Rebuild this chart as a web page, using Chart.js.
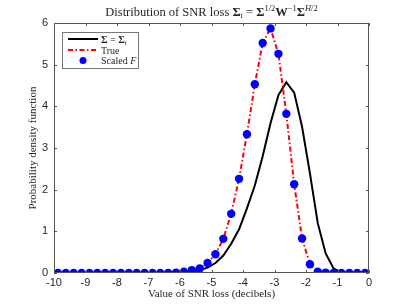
<!DOCTYPE html>
<html>
<head>
<meta charset="utf-8">
<script src="https://cdn.jsdelivr.net/npm/chart.js@4.4.1/dist/chart.umd.min.js"></script>
<style>
  html, body { margin: 0; padding: 0; background: #fff; }
  canvas { display: block; }
</style>
</head>
<body>
<canvas id="c" width="409" height="307"></canvas>
<script>
// bin centres (decibels)
const binCentres = [
  -9.875, -9.625, -9.375, -9.125, -8.875, -8.625, -8.375, -8.125,
  -7.875, -7.625, -7.375, -7.125, -6.875, -6.625, -6.375, -6.125,
  -5.875, -5.625, -5.375, -5.125, -4.875, -4.625, -4.375, -4.125,
  -3.875, -3.625, -3.375, -3.125, -2.875, -2.625, -2.375, -2.125,
  -1.875, -1.625, -1.375, -1.125, -0.875, -0.625, -0.375, -0.125
]
// Sigma = Sigma_t (black)
const sigmaT = [
  0, 0, 0, 0, 0, 0, 0, 0,
  0, 0, 0, 0, 0, 0, 0, 0,
  0.01, 0.03, 0.07, 0.13, 0.24, 0.42, 0.7, 1.05,
  1.55, 2.1, 2.8, 3.6, 4.27, 4.58, 4.33, 3.51,
  2.39, 1.19, 0.47, 0.11, 0.01, 0, 0, 0
]
// True (red)
const trueVals = [
  0, 0, 0, 0, 0, 0, 0, 0,
  0, 0, 0, 0, 0, 0, 0, 0.01,
  0.03, 0.07, 0.11, 0.24, 0.45, 0.82, 1.42, 2.26,
  3.33, 4.53, 5.52, 5.87, 5.26, 3.82, 2.13, 0.83,
  0.21, 0.03, 0.01, 0, 0, 0, 0, 0
]
// Scaled F (blue markers)
const scaledF = [
  0, 0, 0, 0, 0, 0, 0, 0,
  0, 0, 0, 0, 0, 0, 0, 0.01,
  0.03, 0.07, 0.11, 0.24, 0.45, 0.82, 1.42, 2.26,
  3.33, 4.53, 5.52, 5.87, 5.26, 3.82, 2.13, 0.83,
  0.21, 0.03, 0.01, 0, 0, 0, 0, 0
]
const xTicks = [-10, -9, -8, -7, -6, -5, -4, -3, -2, -1, 0]
const yTicks = [0, 1, 2, 3, 4, 5, 6]

const pts = (vals) => binCentres.map((x, i) => ({ x: x, y: vals[i] }))

const SERIF = '"Liberation Serif", "DejaVu Serif", serif'
const SANS = '"Liberation Sans", Arial, sans-serif'
const AXIS = '#555'

// draws a list of text pieces with different fonts / baseline shifts
function drawRich(ctx, pieces, x, y, align) {
  let total = 0
  for (let p of pieces) { ctx.font = p.f; total += ctx.measureText(p.t).width }
  let cx = align === 'center' ? x - total / 2 : x
  ctx.textBaseline = 'alphabetic'
  ctx.textAlign = 'left'
  for (let p of pieces) {
    ctx.font = p.f
    ctx.fillText(p.t, cx, y + (p.dy || 0))
    cx += ctx.measureText(p.t).width
  }
}

const decor = {
  id: 'decor',
  afterDraw(chart) {
    const ctx = chart.ctx
    const a = chart.chartArea
    const xs = chart.scales.x, ys = chart.scales.y
    ctx.save()
    // box
    ctx.strokeStyle = AXIS
    ctx.lineWidth = 1
    ctx.strokeRect(a.left + 0.5, a.top + 0.5, a.right - a.left - 1, a.bottom - a.top - 1)
    // inward ticks
    ctx.beginPath()
    for (let v of xTicks) {
      const px = Math.round(xs.getPixelForValue(v)) + 0.5
      ctx.moveTo(px, a.bottom); ctx.lineTo(px, a.bottom - 3)
      ctx.moveTo(px, a.top); ctx.lineTo(px, a.top + 3)
    }
    for (let v of yTicks) {
      const py = Math.round(ys.getPixelForValue(v)) + 0.5
      ctx.moveTo(a.left, py); ctx.lineTo(a.left + 3, py)
      ctx.moveTo(a.right, py); ctx.lineTo(a.right - 3, py)
    }
    ctx.stroke()

    ctx.fillStyle = '#262626'
    // title
    const R = '12.5px ' + SERIF, B = 'bold 12.5px ' + SERIF, S = '8.5px ' + SERIF, SI = 'italic 8.5px ' + SERIF
    drawRich(ctx, [
      { t: 'Distribution of SNR loss ', f: R },
      { t: 'Σ', f: B }, { t: 't', f: SI, dy: 2 },
      { t: ' = ', f: R },
      { t: 'Σ', f: B }, { t: '1/2', f: S, dy: -5 },
      { t: 'W', f: B }, { t: '−1', f: S, dy: -5 },
      { t: 'Σ', f: B }, { t: 'H', f: SI, dy: -5 }, { t: '/2', f: S, dy: -5 }
    ], (a.left + a.right) / 2, 16, 'center')

    // axis titles
    ctx.font = '11px ' + SERIF
    ctx.textAlign = 'center'
    ctx.textBaseline = 'middle'
    ctx.fillText('Value of SNR loss (decibels)', (a.left + a.right) / 2, 294)
    ctx.save()
    ctx.translate(33, (a.top + a.bottom) / 2)
    ctx.rotate(-Math.PI / 2)
    ctx.fillText('Probability density function', 0, 0)
    ctx.restore()

    // legend
    const lx = 62.5, ly = 32.5, lw = 76, lh = 36
    ctx.fillStyle = '#fff'
    ctx.fillRect(lx, ly, lw, lh)
    ctx.strokeStyle = '#777'
    ctx.lineWidth = 1
    ctx.strokeRect(lx, ly, lw, lh)
    const rows = [39, 50, 60.5]
    ctx.lineWidth = 2
    ctx.strokeStyle = '#000'
    ctx.beginPath(); ctx.moveTo(68, rows[0]); ctx.lineTo(98, rows[0]); ctx.stroke()
    ctx.strokeStyle = '#ff0000'
    ctx.setLineDash([5, 2.5, 1.5, 2.5])
    ctx.beginPath(); ctx.moveTo(68, rows[1]); ctx.lineTo(98, rows[1]); ctx.stroke()
    ctx.setLineDash([])
    ctx.fillStyle = '#0000ff'
    ctx.beginPath(); ctx.arc(83, rows[2], 3.5, 0, Math.PI * 2); ctx.fill()
    ctx.fillStyle = '#262626'
    const LR = '10px ' + SERIF, LB = 'bold 10px ' + SERIF, LI = 'italic 10px ' + SERIF, LS = 'italic 7px ' + SERIF
    drawRich(ctx, [{ t: 'Σ', f: LB }, { t: ' = ', f: LR }, { t: 'Σ', f: LB }, { t: 't', f: LS, dy: 2 }], 101, rows[0] + 3.5, 'left')
    drawRich(ctx, [{ t: 'True', f: LR }], 101, rows[1] + 3.5, 'left')
    drawRich(ctx, [{ t: 'Scaled ', f: LR }, { t: 'F', f: LI }], 101, rows[2] + 3.5, 'left')
    ctx.restore()
  }
}

new Chart(document.getElementById('c'), {
  type: 'line',
  data: {
    datasets: [
      {
        label: 'Scaled F', data: pts(scaledF), showLine: false,
        pointRadius: 4.2, pointBackgroundColor: '#0000ff', pointBorderColor: '#0000ff',
        pointBorderWidth: 0, order: 0
      },
      {
        label: 'True', data: pts(trueVals), borderColor: '#ff0000', borderWidth: 2,
        borderDash: [5, 2.5, 1.5, 2.5], pointRadius: 0, tension: 0, order: 1
      },
      {
        label: 'Σ = Σt', data: pts(sigmaT), borderColor: '#000', borderWidth: 2,
        pointRadius: 0, tension: 0, order: 2
      }
    ]
  },
  options: {
    responsive: false,
    animation: false,
    devicePixelRatio: 1,
    layout: { padding: { left: 0, top: 23, right: 40, bottom: 0 } },
    plugins: { legend: { display: false }, tooltip: { enabled: false } },
    scales: {
      x: {
        type: 'linear', min: -10, max: 0,
        afterFit: (s) => { s.height = 34 },
        afterBuildTicks: (s) => { s.ticks = xTicks.map(v => ({ value: v })) },
        grid: { display: false, drawTicks: false, tickLength: 0 },
        border: { display: false },
        ticks: { color: '#262626', font: { family: SANS, size: 11 }, padding: 3, maxRotation: 0 }
      },
      y: {
        min: 0, max: 6,
        afterFit: (s) => { s.width = 54 },
        afterBuildTicks: (s) => { s.ticks = yTicks.map(v => ({ value: v })) },
        grid: { display: false, drawTicks: false, tickLength: 0 },
        border: { display: false },
        ticks: { color: '#262626', font: { family: SANS, size: 11 }, padding: 6 }
      }
    }
  },
  plugins: [decor]
})
</script>
</body>
</html>
